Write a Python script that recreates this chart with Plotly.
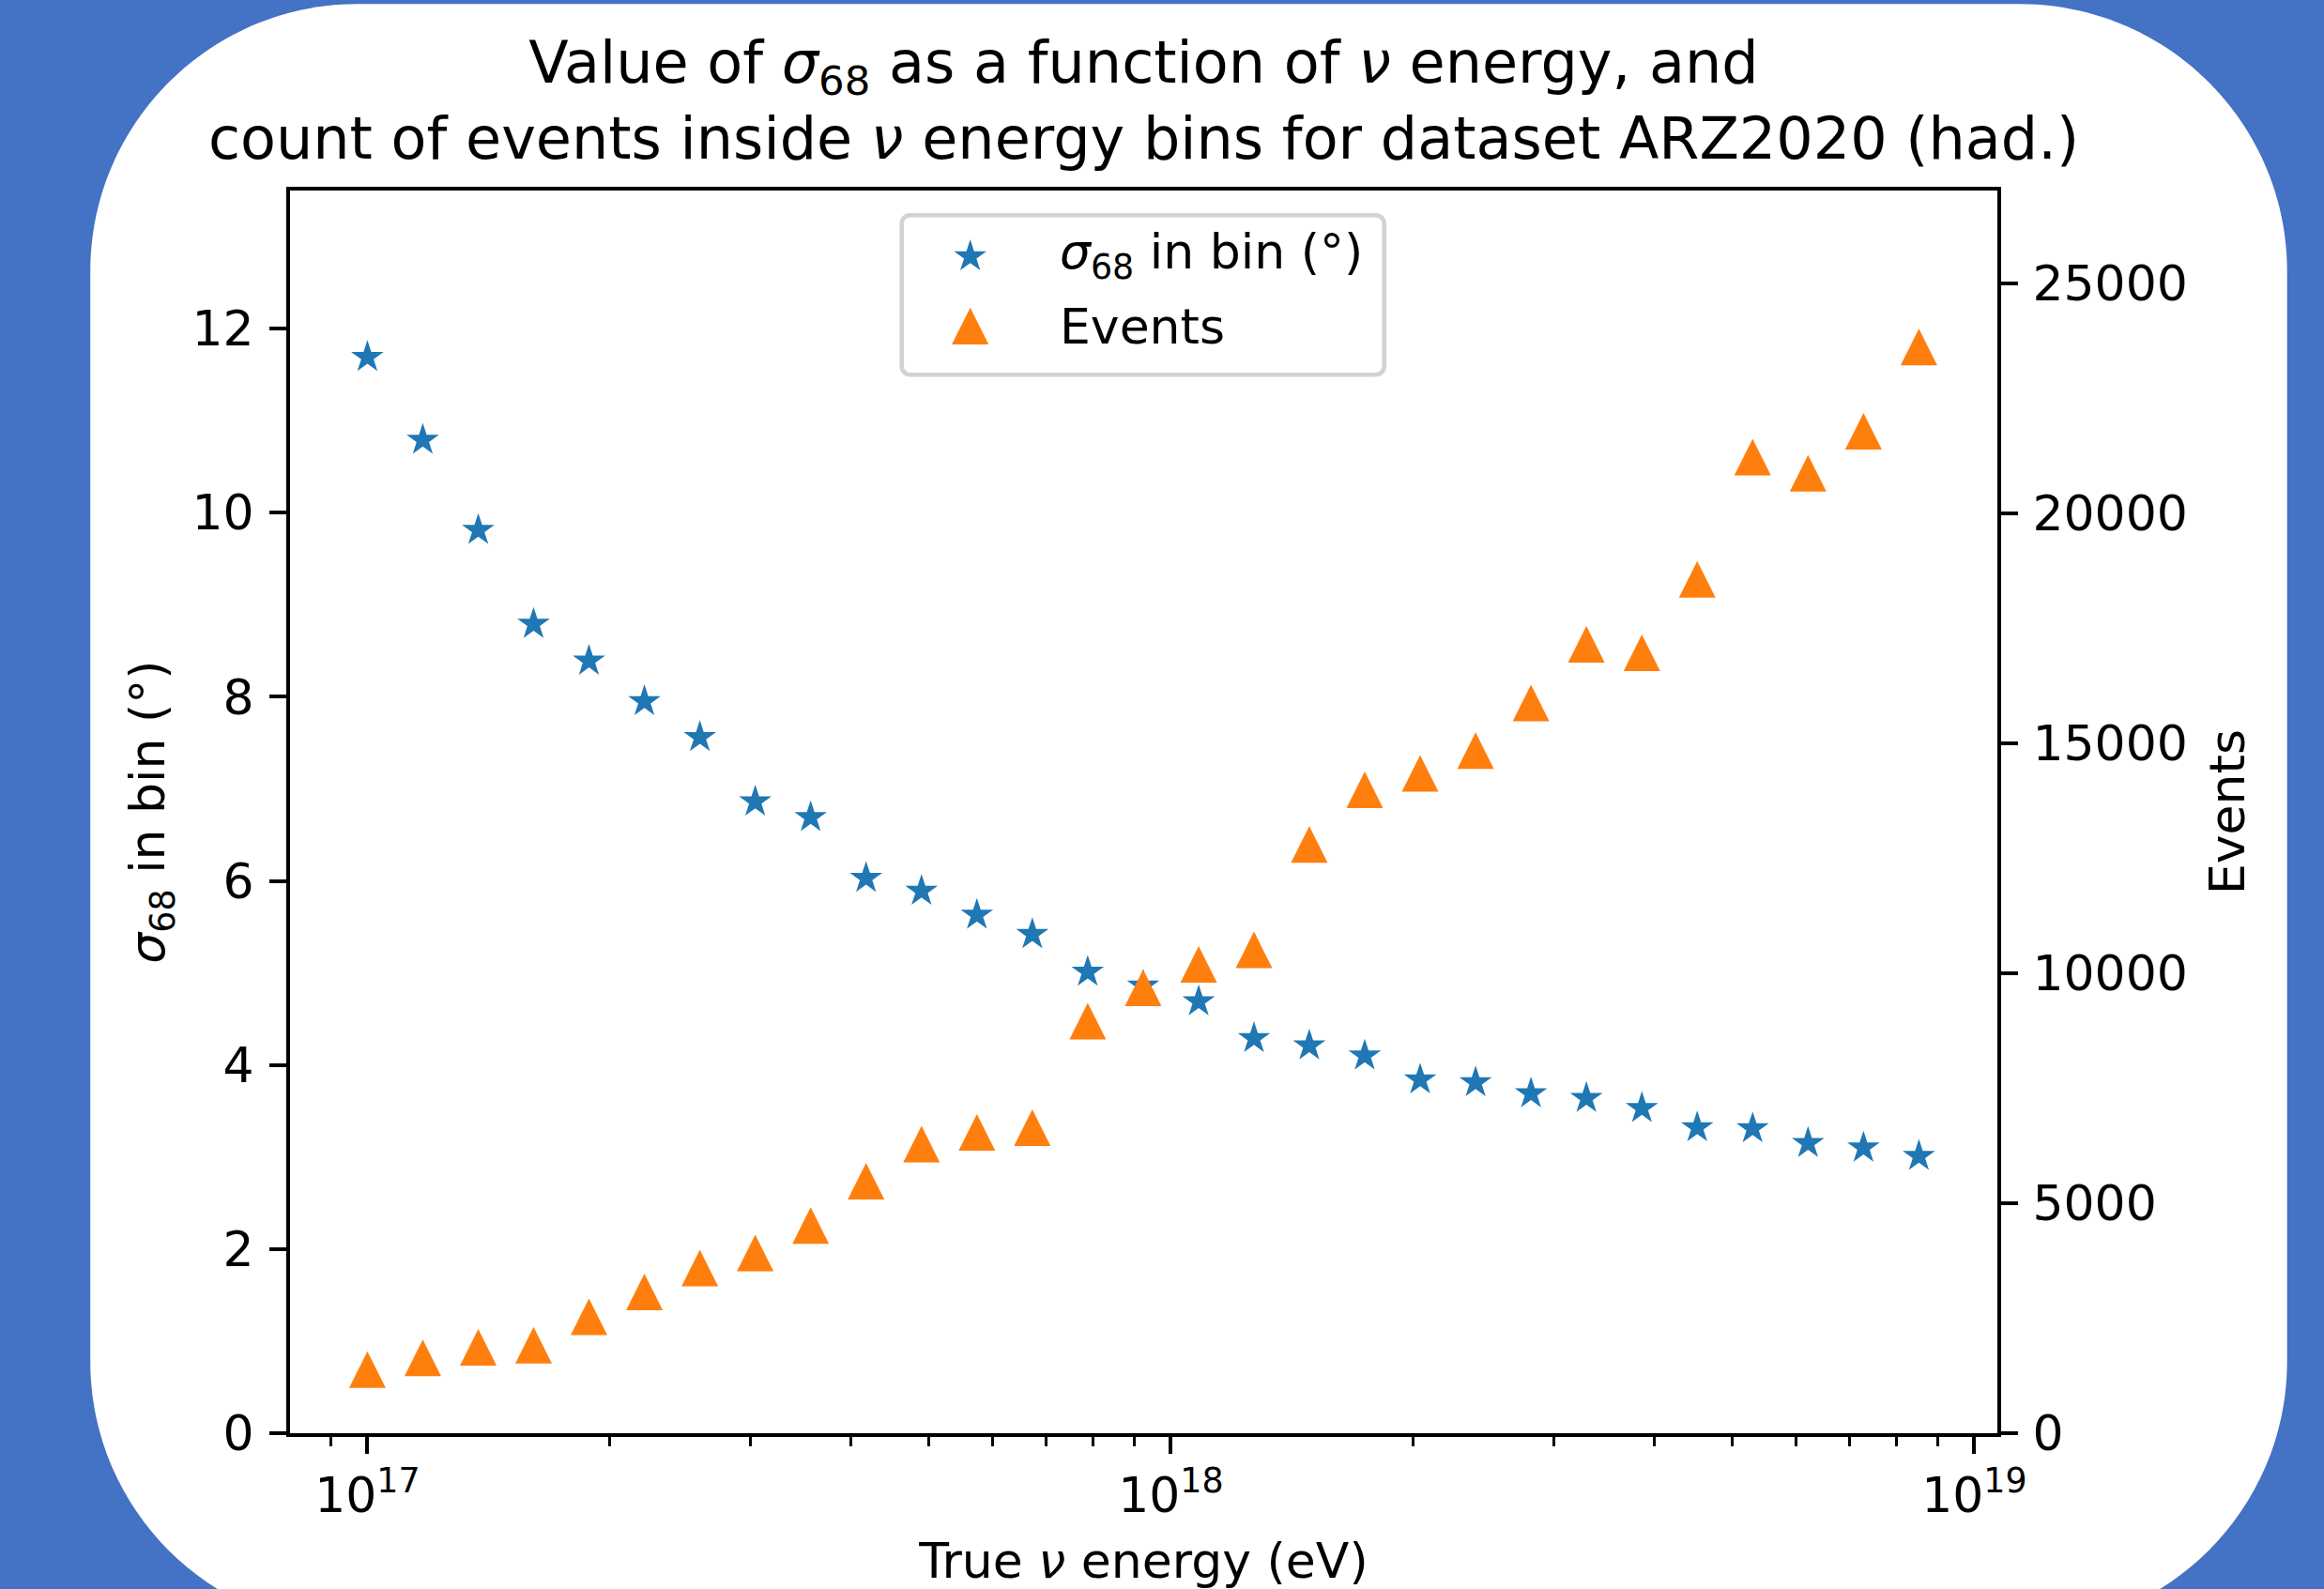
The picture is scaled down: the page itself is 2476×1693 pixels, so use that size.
import plotly.graph_objects as go
import math

# ---------------- data ----------------
energy_eV = [1.000e17, 1.172e17, 1.374e17, 1.610e17, 1.887e17, 2.212e17, 2.593e17,
             3.039e17, 3.562e17, 4.175e17, 4.894e17, 5.736e17, 6.723e17, 7.880e17,
             9.237e17, 1.083e18, 1.269e18, 1.487e18, 1.743e18, 2.043e18, 2.395e18,
             2.807e18, 3.290e18, 3.857e18, 4.520e18, 5.298e18, 6.210e18, 7.279e18,
             8.532e18]
sigma68_deg = [11.69, 10.79, 9.81, 8.79, 8.39, 7.95, 7.56, 6.86, 6.69, 6.03, 5.89,
               5.63, 5.42, 5.01, 4.86, 4.69, 4.29, 4.21, 4.10, 3.84, 3.81, 3.69,
               3.64, 3.53, 3.32, 3.31, 3.15, 3.10, 3.01]
events = [1382, 1637, 1865, 1912, 2531, 3072, 3592, 3918, 4514, 5480, 6286, 6541,
          6643, 8957, 9681, 10194, 10508, 12800, 13988, 14347, 14841, 15878, 17151,
          16967, 18565, 21222, 20871, 21786, 23616]

x_tickvals = [1e17, 1e18, 1e19]
x_ticktext = ["10<sup>17</sup>", "10<sup>18</sup>", "10<sup>19</sup>"]
x_minor = [9e16] + [k * 1e17 for k in range(2, 10)] + [k * 1e18 for k in range(2, 10)]
y_left_ticks = [0, 2, 4, 6, 8, 10, 12]
y_right_ticks = [0, 5000, 10000, 15000, 20000, 25000]
y_right_ticktext = ["0", "5000", "10000", "15000", "20000", "25000"]

title_text = ("Value of <i>σ</i><sub>68</sub> as a function of <i>ν</i> energy, and<br>"
              "count of events inside <i>ν</i> energy bins for dataset ARZ2020 (had.)")
legend_labels = ["<i>σ</i><sub>68</sub> in bin (°)", "Events"]

# ---------------- geometry ----------------
W, H = 2476, 1693
L, R, T, B = 309.3, 2128.3, 202.7, 1526.7
FONT = "DejaVu Sans"
BLUE = "#4472C4"
C0, C1 = "#1f77b4", "#ff7f0e"


def px_x(px):
    return (px - L) / (R - L)


def px_y(py):
    return (B - py) / (B - T)


def rounded_rect_path(x0, y0, x1, y1, r):
    k = 0.5523 * r
    pts = [("M", [(x0 + r, y0)]),
           ("L", [(x1 - r, y0)]),
           ("C", [(x1 - r + k, y0), (x1, y0 + r - k), (x1, y0 + r)]),
           ("L", [(x1, y1 - r)]),
           ("C", [(x1, y1 - r + k), (x1 - r + k, y1), (x1 - r, y1)]),
           ("L", [(x0 + r, y1)]),
           ("C", [(x0 + r - k, y1), (x0, y1 - r + k), (x0, y1 - r)]),
           ("L", [(x0, y0 + r)]),
           ("C", [(x0, y0 + r - k), (x0 + r - k, y0), (x0 + r, y0)])]
    s = ""
    for cmd, ps in pts:
        s += cmd + " ".join(f"{px_x(a):.5f},{px_y(b):.5f}" for a, b in ps) + " "
    return s + "Z"


fig = go.Figure()

fig.add_trace(go.Scatter(
    x=energy_eV, y=sigma68_deg, mode="markers", name="σ68 in bin (°)",
    marker=dict(symbol="star", size=26, color=C0, line=dict(width=0)),
    yaxis="y", showlegend=False))

fig.add_trace(go.Scatter(
    x=energy_eV, y=events, mode="markers", name="Events",
    marker=dict(symbol="arrow-down", angle=180, standoff=19.5, size=39,
                color=C1, line=dict(width=0)),
    yaxis="y2", showlegend=False))

shapes = [
    dict(type="path", xref="paper", yref="paper", layer="below",
         path=rounded_rect_path(96.5, 4, 2437, 1735, 285),
         fillcolor="white", line=dict(width=0)),
    # legend frame
    dict(type="path", xref="paper", yref="paper", layer="above",
         path=rounded_rect_path(961, 229, 1475, 399, 9),
         fillcolor="rgba(255,255,255,0.8)", line=dict(color="#d2d2d2", width=4.5)),
]

# legend symbols (pixel-sized paths anchored in paper space)
Rs = 18.2
star_pts = []
for i in range(10):
    ang = math.radians(90 + 36 * i)
    rr = Rs if i % 2 == 0 else Rs * 0.382
    star_pts.append((rr * math.cos(ang), rr * math.sin(ang)))
star_path = "M" + " L".join(f"{a:.2f},{b:.2f}" for a, b in star_pts) + " Z"
tri_path = "M0,19.6 L-19.6,-19.6 L19.6,-19.6 Z"
shapes.append(dict(type="path", xref="paper", yref="paper", layer="above",
                   xsizemode="pixel", ysizemode="pixel",
                   xanchor=px_x(1034), yanchor=px_y(273), path=star_path,
                   fillcolor=C0, line=dict(width=0)))
shapes.append(dict(type="path", xref="paper", yref="paper", layer="above",
                   xsizemode="pixel", ysizemode="pixel",
                   xanchor=px_x(1034), yanchor=px_y(347), path=tri_path,
                   fillcolor=C1, line=dict(width=0)))

annotations = [
    dict(text=legend_labels[0], x=px_x(1127), y=px_y(272), xref="paper", yref="paper",
         xanchor="left", yanchor="middle", showarrow=False,
         font=dict(family=FONT, size=52, color="black")),
    dict(text=legend_labels[1], x=px_x(1127), y=px_y(348), xref="paper", yref="paper",
         xanchor="left", yanchor="middle", showarrow=False,
         font=dict(family=FONT, size=52, color="black")),
]

axis_common = dict(showgrid=False, zeroline=False, showline=True, linecolor="black",
                   linewidth=4, ticks="outside", ticklen=18, tickwidth=4,
                   tickcolor="black", automargin=False,
                   tickfont=dict(family=FONT, size=52, color="black"))

fig.update_layout(
    width=W, height=H,
    paper_bgcolor=BLUE, plot_bgcolor="white",
    margin=dict(l=L, r=W - R, t=T, b=H - B, pad=0),
    font=dict(family=FONT, color="black"),
    title=dict(text=title_text, x=0.5, xref="paper", xanchor="center",
               y=1 - 88 / H, yref="container", yanchor="middle",
               font=dict(family=FONT, size=62, color="black")),
    xaxis=dict(type="log", range=[16.9037, 19.0287], mirror=True,
               tickvals=x_tickvals, ticktext=x_ticktext, ticklabelstandoff=0,
               minor=dict(tickmode="array", tickvals=x_minor, ticks="outside",
                          ticklen=10.4, tickwidth=3, tickcolor="black"),
               title=dict(text="True <i>ν</i> energy (eV)", standoff=24,
                          font=dict(family=FONT, size=52, color="black")),
               **axis_common),
    yaxis=dict(range=[0, 13.5], tickvals=y_left_ticks, ticklabelstandoff=6,
               title=dict(text="<i>σ</i><sub>68</sub> in bin (°)", standoff=13,
                          font=dict(family=FONT, size=52, color="black")),
               **axis_common),
    yaxis2=dict(range=[0, 27020], overlaying="y", side="right", anchor="x",
                tickvals=y_right_ticks, ticktext=y_right_ticktext, ticklabelstandoff=5,
                title=dict(text="Events", standoff=26,
                           font=dict(family=FONT, size=52, color="black")),
                **axis_common),
    shapes=shapes,
    annotations=annotations,
    showlegend=False,
)

fig.write_html("out.html")
